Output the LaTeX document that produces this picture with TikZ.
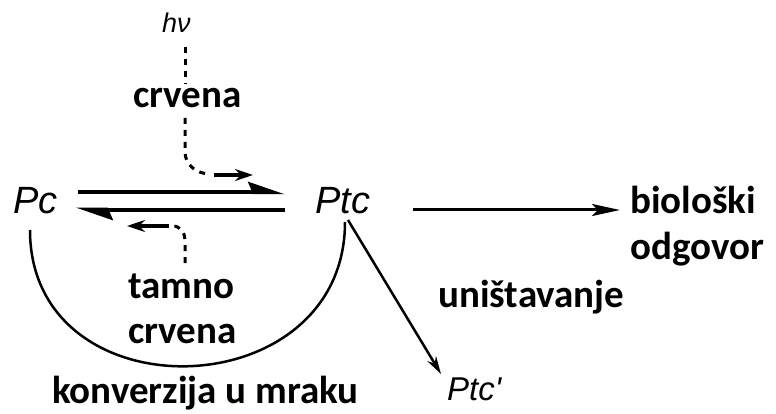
\documentclass[tikz,border=0pt]{standalone}
\usepackage{fontspec}
\setmainfont{Carlito}
\newfontfamily\itsans{Liberation Sans}
\usetikzlibrary{arrows.meta,calc}
\begin{document}
\begin{tikzpicture}[x=1pt,y=-1pt,
  lbl/.style={font=\fontsize{39}{46}\selectfont\bfseries, inner sep=0pt, anchor=base west},
  chem/.style={font=\fontsize{38}{44}\selectfont\itsans\itshape, inner sep=0pt, anchor=base west},
  dsh/.style={line width=3pt, dash pattern=on 6pt off 6pt},
  shortarr/.style={line width=4pt, -{Stealth[length=18pt,width=12pt]}},
  dbl/.style={line width=4.5pt, -{Stealth[harpoon,length=30pt,width=20pt,inset=4pt]}},
  thinarr/.style={line width=2.5pt, -{Stealth[length=18pt,width=10pt]}}]
\useasboundingbox (0,0) rectangle (776,414);
% nodes
\node[chem] (pc) at (13,213) {Pc};
\node[chem] (ptc) at (315,213) {Ptc};
\node[chem, font=\fontsize{33}{38}\selectfont\itsans\itshape] (ptcp) at (447,400) {Ptc\textquotesingle};
\node[font=\fontsize{27}{30}\selectfont\itsans\itshape, inner sep=0pt, anchor=base west] (hv) at (162,33) {hν};
\node[lbl] (crv1) at (133,108) {crvena};
\node[lbl] (tamno) at (128,298) {tamno};
\node[lbl] (crv2) at (128,343) {crvena};
\node[lbl] (konv) at (52,403) {konverzija u mraku};
\node[lbl] (bio) at (630,213) {biološki};
\node[lbl] (odg) at (630,259) {odgovor};
\node[lbl] (unis) at (438,307) {uništavanje};
% coordinates
\coordinate (u1) at (78,192);
\coordinate (u2) at (285,192);
\coordinate (l1) at (76,210);
\coordinate (l2) at (285,210);
\coordinate (pcb) at (30,230);
\coordinate (ptcb) at (345,222);
\coordinate (ptcr) at (348,220);
\coordinate (ar1) at (413,210);
\coordinate (ar2) at (620,210);
\coordinate (d1) at (185,47);
\coordinate (d2) at (185,84);
\coordinate (d3) at (185,118);
\coordinate (d4) at (185,152);
\coordinate (d5) at (210,174);
\coordinate (a1) at (214,175);
\coordinate (a2) at (253,175);
\coordinate (e1) at (185,263);
\coordinate (e2) at (185,240);
\coordinate (e3) at (173,226);
\coordinate (b1) at (169,226);
\coordinate (b2) at (127,226);
\coordinate (pe) at (441,374);
% equilibrium lines
\draw[dbl] (u1) -- (u2);
\draw[dbl] (l2) -- (l1);
% light paths
\draw[dsh] (d1) -- (d2);
\draw[dsh] (d3) -- (d4) to[out=-90,in=180] (d5);
\draw[shortarr] (a1) -- (a2);
\draw[dsh] (e1) -- (e2) to[out=90,in=0] (e3);
\draw[shortarr] (b1) -- (b2);
% dark conversion arc
\draw[line width=2.5pt] (pcb) .. controls ($(pcb)+(0,187)$) and ($(ptcb)+(0,187)$) .. (ptcb);
% destruction
\draw[thinarr] (ptcr) -- (pe);
% biological response
\draw[line width=3pt, -{Stealth[length=28pt,width=12pt,inset=6pt]}] (ar1) -- (ar2);
\end{tikzpicture}
\end{document}
